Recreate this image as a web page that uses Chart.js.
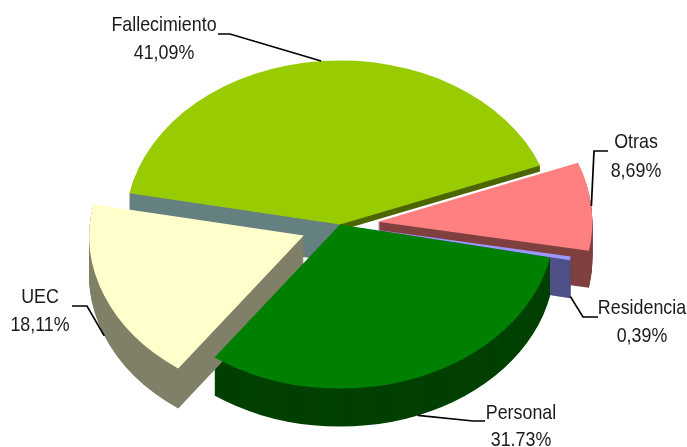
<!DOCTYPE html>
<html>
<head>
<meta charset="utf-8">
<title>Pie</title>
<script src="https://cdn.jsdelivr.net/npm/chart.js@4/dist/chart.umd.js"></script>
<style>
  html, body { margin: 0; padding: 0; background: #fff; }
  canvas { display: block; }
</style>
</head>
<body>
<canvas id="myChart" width="687" height="447"></canvas>
<script>
// data
const categories = ['Fallecimiento', 'Otras', 'Residencia', 'Personal', 'UEC'];
const values = [41.09, 8.69, 0.39, 31.73, 18.11];
const percentLabels = ['41,09%', '8,69%', '0,39%', '31.73%', '18,11%'];

// look of the slices
const topColors = ['#99CC00', '#FF8080', '#9999FF', '#008000', '#FFFFCC'];
const wallColors = ['#4D6600', '#804040', '#505088', '#004000', '#808068'];
const wallDepths = [6, 37, 38, 38, 40];
const explode = [0, 38, 20, 0, 39];
const tilt = 0.765;
const pieRadius = 214.5;

// the back slice shows another colour on its left cut face
const backWallColor = '#668080';
const backWallDepth = 38;

// label layout: text centre, two baselines, leader start and elbow
const labelLayout = [
  { x: 164, y1: 31, y2: 59, from: [218, 34], elbow: [230, 34] },
  { x: 636, y1: 148, y2: 177, from: [608, 151], elbow: [594, 151] },
  { x: 642, y1: 314, y2: 342, from: [598, 317], elbow: [583, 317] },
  { x: 521, y1: 419, y2: 446, from: [485, 421], elbow: [473, 421] },
  { x: 40, y1: 303, y2: 331, from: [72, 306], elbow: [87, 306] }
];
const textSquash = 0.85;

// arc.draw with another fill, pushed out along the slice and down by drop
function drawSlice(ctx, arc, i, color, drop) {
  const mid = (arc.startAngle + arc.endAngle) / 2;
  ctx.save();
  ctx.translate(arc.x, arc.y + drop);
  ctx.scale(1, tilt);
  ctx.translate(-arc.x, -arc.y);
  ctx.translate(Math.cos(mid) * explode[i], Math.sin(mid) * explode[i]);
  const saved = arc.options;
  arc.options = Object.assign(Object.create(saved), { backgroundColor: color });
  arc.draw(ctx);
  arc.options = saved;
  ctx.restore();
}

function drawWall(ctx, arc, i, color, depth) {
  for (let d = depth; d > 0; d--) {
    drawSlice(ctx, arc, i, color, d);
  }
}

const pie3d = {
  id: 'pie3d',
  beforeDatasetsDraw(chart) {
    const ctx = chart.ctx;
    const arcs = chart.getDatasetMeta(0).data;

    arcs.forEach((arc, i) => {
      if (i === 0) {
        // left half teal and deep, right half olive and thin
        ctx.save();
        ctx.beginPath();
        ctx.rect(0, 0, arc.x, chart.height);
        ctx.clip();
        drawWall(ctx, arc, i, backWallColor, backWallDepth);
        ctx.restore();
        ctx.save();
        ctx.beginPath();
        ctx.rect(arc.x, 0, chart.width - arc.x, chart.height);
        ctx.clip();
        drawWall(ctx, arc, i, wallColors[i], wallDepths[i]);
        ctx.restore();
      } else {
        drawWall(ctx, arc, i, wallColors[i], wallDepths[i]);
      }
    });
    arcs.forEach((arc, i) => drawSlice(ctx, arc, i, topColors[i], 0));

    return false; // slices are done, skip the flat pie
  },
  afterDraw(chart) {
    const ctx = chart.ctx;
    const arcs = chart.getDatasetMeta(0).data;
    ctx.save();
    ctx.fillStyle = '#1a1a1a';
    ctx.strokeStyle = '#000';
    ctx.lineWidth = 1.7;
    ctx.font = '21px "Liberation Sans", sans-serif';
    ctx.textAlign = 'center';
    arcs.forEach((arc, i) => {
      const mid = (arc.startAngle + arc.endAngle) / 2;
      const r = arc.outerRadius + explode[i];
      const sin = Math.sin(mid);
      const endX = arc.x + Math.cos(mid) * r;
      // slices facing the viewer get the leader on the bottom of the wall
      const endY = arc.y + sin * r * tilt + (sin > 0.1 ? wallDepths[i] : 0);
      const l = labelLayout[i];
      ctx.beginPath();
      ctx.moveTo(l.from[0], l.from[1]);
      ctx.lineTo(l.elbow[0], l.elbow[1]);
      ctx.lineTo(endX, endY);
      ctx.stroke();
      ctx.save();
      ctx.translate(l.x, 0);
      ctx.scale(textSquash, 1);
      ctx.fillText(categories[i], 0, l.y1);
      ctx.fillText(percentLabels[i], 0, l.y2);
      ctx.restore();
    });
    ctx.restore();
  }
};

new Chart(document.getElementById('myChart'), {
  type: 'pie',
  data: {
    labels: categories,
    datasets: [{
      data: values,
      backgroundColor: topColors,
      borderWidth: 0,
      hoverOffset: 0
    }]
  },
  options: {
    responsive: false,
    animation: false,
    events: [],
    rotation: -79,
    radius: pieRadius,
    layout: { padding: { right: 7, top: 2 } },
    plugins: {
      legend: { display: false },
      tooltip: { enabled: false }
    }
  },
  plugins: [pie3d]
});
</script>
</body>
</html>
